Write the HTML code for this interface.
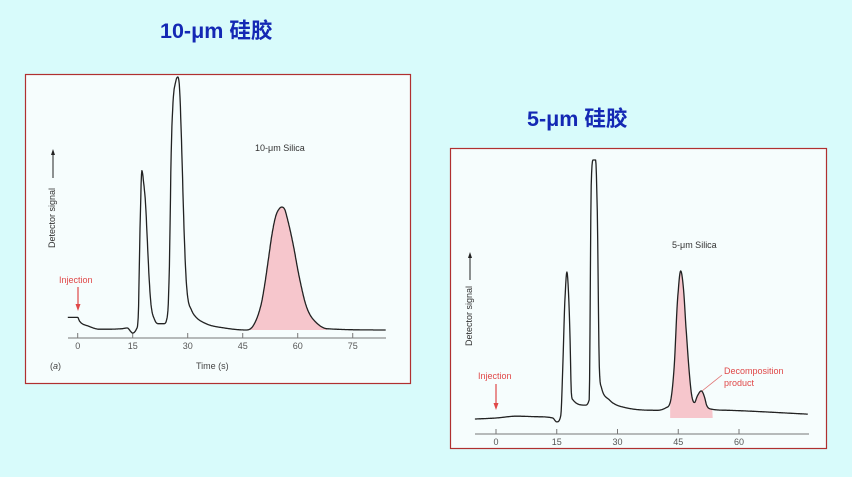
<!DOCTYPE html>
<html><head><meta charset="utf-8"><style>
body{margin:0;background:#d8fbfb;}
svg{display:block;font-family:"Liberation Sans","Noto Sans CJK SC",sans-serif;}
</style></head><body>
<svg id="s" width="852" height="477" viewBox="0 0 852 477">
<rect x="0" y="0" width="852" height="477" fill="#d8fbfb"/>
<text x="160" y="38" font-size="21.5" font-weight="bold" fill="#1428b4">10-μm 硅胶</text>
<text x="527" y="126" font-size="21.5" font-weight="bold" fill="#1428b4">5-μm 硅胶</text>
<g id="c1">
<rect x="25.5" y="74.5" width="385" height="309" fill="#f6fdfd" stroke="#b03030" stroke-width="1.2"/>
<text x="255" y="151" font-size="9" fill="#333">10-μm Silica</text>
<text transform="translate(55,248) rotate(-90)" font-size="9" fill="#333">Detector signal</text>
<line x1="53" y1="178" x2="53" y2="153" stroke="#222" stroke-width="1"/>
<polygon points="53,149 51,155 55,155" fill="#222"/>
<text x="59" y="283" font-size="9" fill="#e04848">Injection</text>
<line x1="78" y1="287" x2="78" y2="305" stroke="#e04848" stroke-width="1.2"/>
<polygon points="78,311 75.5,304 80.5,304" fill="#e04848"/>
<text x="50" y="369" font-size="9" fill="#444">(<tspan font-style="italic">a</tspan>)</text>
<text x="196" y="369" font-size="9" fill="#444">Time (s)</text>
</g>
<g id="c2">
<rect x="450.5" y="148.5" width="376" height="300" fill="#f6fdfd" stroke="#b03030" stroke-width="1.2"/>
<text x="672" y="248" font-size="9" fill="#333">5-μm Silica</text>
<text transform="translate(472,346) rotate(-90)" font-size="9" fill="#333">Detector signal</text>
<line x1="470" y1="280" x2="470" y2="256" stroke="#222" stroke-width="1"/>
<polygon points="470,252 468,258 472,258" fill="#222"/>
<text x="478" y="379" font-size="9" fill="#e04848">Injection</text>
<line x1="496" y1="384" x2="496" y2="404" stroke="#e04848" stroke-width="1.2"/>
<polygon points="496,410 493.5,403 498.5,403" fill="#e04848"/>
<text x="724" y="374" font-size="9" fill="#e04848">Decomposition</text>
<text x="724" y="386" font-size="9" fill="#e04848">product</text>
<line x1="702" y1="391" x2="722" y2="375" stroke="#e07070" stroke-width="0.8"/>
</g>
</svg>
<script>
// Chart 1 (10-um) data
const t1=[-2.7,0,0.5,3,6,12,13.5,15,16,16.5,17,17.5,18,18.5,19,19.5,20,21,22,23.5,24.5,25,25.5,26,26.7,27.3,27.8,28.3,29,29.5,30,31,32,35,40,46,48,50,51,52,53,54,55,55.7,56.5,57,58,59,60,61,62,63,65,68,84];
const v1=[5,5,3.5,1.5,0.3,0.5,0.8,-1.2,0.3,5,40,63,58,50,35,20,10,4,2.5,2.5,6,25,70,90,98,100,95,75,40,22,13,8,5.5,2.5,0.8,0,2,10,18,28,38,45,48,48.6,47.5,45,39,32,24,17,11,7,3,0.5,0];
const fill1=[46,68];
const ticks1=[0,15,30,45,60,75];
// Chart 2 (5-um) data
const t2=[-5.2,0,5,10,14,15,16,16.5,17,17.5,18,18.3,18.6,19,22,23,23.5,24,24.6,25,25.5,26,28,32,40,42,43,44,44.8,45.6,46.3,47,47.7,48.3,49,49.7,50.7,51.5,52,53,57,77];
const v2=[-0.4,0,0.7,0.5,0,-1.5,1,20,45,56.6,45,30,10,7,5,7,90,100,100,80,20,12,7,4,3,4,6,20,45,57,50,33,18,9,6,8.5,10.5,8,5,3.5,3,1.5];
const fill2=[43,53.5];
const ticks2=[0,15,30,45,60];
const NS='http://www.w3.org/2000/svg';
function mono(xs,ys){
  const n=xs.length,d=[],m=new Array(n);
  for(let i=0;i<n-1;i++)d.push((ys[i+1]-ys[i])/(xs[i+1]-xs[i]));
  m[0]=d[0];m[n-1]=d[n-2];
  for(let i=1;i<n-1;i++){m[i]=(d[i-1]*d[i]<=0)?0:(d[i-1]+d[i])/2;}
  for(let i=0;i<n-1;i++){if(d[i]===0){m[i]=0;m[i+1]=0;continue;}
    const a=m[i]/d[i],b=m[i+1]/d[i],s=a*a+b*b;if(s>9){const t=3/Math.sqrt(s);m[i]=t*a*d[i];m[i+1]=t*b*d[i];}}
  return x=>{let i=0;while(i<n-2&&x>xs[i+1])i++;const h=xs[i+1]-xs[i],t=(x-xs[i])/h;
    const h00=2*t*t*t-3*t*t+1,h10=t*t*t-2*t*t+t,h01=-2*t*t*t+3*t*t,h11=t*t*t-t*t;
    return h00*ys[i]+h10*h*m[i]+h01*ys[i+1]+h11*h*m[i+1];};
}
function draw(g,t,v,fr,ticks,cfg,nm){
  const X=s=>cfg.x0+s*cfg.px, Y=u=>cfg.y0-u*cfg.py;
  const f0=mono(t,v);
  const samp=[];for(let s=t[0];s<=t[t.length-1];s+=0.1)samp.push([s,f0(s)]);
  const d=samp.map((p,i)=>(i?'L':'M')+X(p[0]).toFixed(1)+','+Y(p[1]).toFixed(1)).join('');
  const fp=samp.filter(p=>p[0]>=fr[0]&&p[0]<=fr[1]);
  const fd='M'+X(fr[0])+','+cfg.y0+fp.map(p=>'L'+X(p[0]).toFixed(1)+','+Y(p[1]).toFixed(1)).join('')+'L'+X(fr[1])+','+cfg.y0+'Z';
  const f=document.createElementNS(NS,'path');f.setAttribute('d',fd);f.setAttribute('fill','#f6c6cc');
  
  
  g.appendChild(f);
  const ax=document.createElementNS(NS,'line');ax.setAttribute('x1',cfg.ax1);ax.setAttribute('x2',cfg.ax2);ax.setAttribute('y1',cfg.ay);ax.setAttribute('y2',cfg.ay);ax.setAttribute('stroke','#777');
  
  
  g.appendChild(ax);
  ticks.forEach(k=>{
    const l=document.createElementNS(NS,'line');l.setAttribute('x1',X(k));l.setAttribute('x2',X(k));l.setAttribute('y1',cfg.ay-5);l.setAttribute('y2',cfg.ay);l.setAttribute('stroke','#777');
    
    
    g.appendChild(l);
    const tx=document.createElementNS(NS,'text');tx.setAttribute('x',X(k));tx.setAttribute('y',cfg.ay+11);tx.setAttribute('font-size','9');tx.setAttribute('fill','#555');tx.setAttribute('text-anchor','middle');tx.textContent=k;
    
    
    g.appendChild(tx);
  });
  const p=document.createElementNS(NS,'path');p.setAttribute('d',d);p.setAttribute('fill','none');p.setAttribute('stroke','#222');p.setAttribute('stroke-width','1.3');p.setAttribute('stroke-linejoin','round');
  
  
  g.appendChild(p);
}
draw(document.getElementById('c1'),t1,v1,fill1,ticks1,{x0:77.7,px:3.667,y0:330,py:2.53,ay:338,ax1:68,ax2:386},'chart-10um');
draw(document.getElementById('c2'),t2,v2,fill2,ticks2,{x0:496,px:4.05,y0:418,py:2.58,ay:434,ax1:475,ax2:809},'chart-5um');
</script>
</body></html>
